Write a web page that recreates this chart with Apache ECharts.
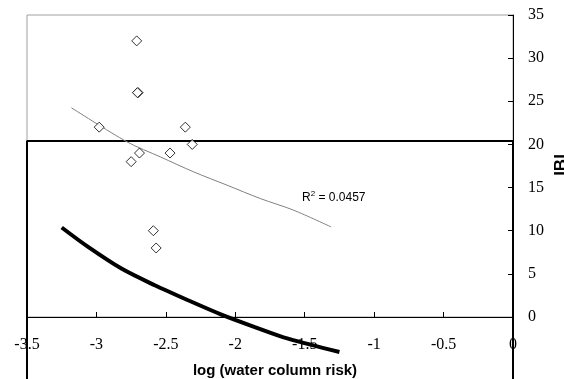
<!DOCTYPE html>
<html>
<head>
<meta charset="utf-8">
<script src="https://cdn.jsdelivr.net/npm/echarts@6/dist/echarts.min.js"></script>
<style>
  html, body { margin: 0; padding: 0; background: #fff; }
  #chart { width: 564px; height: 379px; }
</style>
</head>
<body>
<div id="chart"></div>
<script>
// observed sites: [log water column risk, IBI]
var sites = [
  [-2.71, 32], [-2.70, 26], [-2.705, 26], [-2.98, 22], [-2.36, 22],
  [-2.31, 20], [-2.69, 19], [-2.47, 19], [-2.75, 18],
  [-2.59, 10], [-2.57, 8]
]
// fitted trend
var trendLine = [
  [-3.18, 24.25], [-2.78, 20.3], [-2.54, 18.56], [-2.30, 16.82],
  [-2.06, 15.28], [-1.82, 13.73], [-1.58, 12.38], [-1.31, 10.44]
]
// thick reference curve
var refCurve = [
  [-3.25, 10.37], [-3.06, 8.12], [-2.82, 5.61], [-2.58, 3.68], [-2.34, 1.94],
  [-2.10, 0.28], [-1.86, -1.16], [-1.62, -2.51], [-1.25, -4.06]
]
// box outline
var boxTop = 20.4
var boxOutline = [[-3.5, -10], [-3.5, boxTop], [0, boxTop], [0, -10]]
var xTicks = { min: -3.5, max: 0, step: 0.5 }
var yTicks = { min: 0, max: 35, step: 5 }

var chart = echarts.init(document.getElementById('chart'))

chart.setOption({
  animation: false,
  grid: {
    left: 27,
    right: 51,
    top: 15,
    bottom: 62,
    outerBoundsMode: 'none',
    containLabel: false,
    show: true,
    borderColor: '#a0a0a0',
    borderWidth: 1
  },
  xAxis: {
    type: 'value',
    min: xTicks.min,
    max: xTicks.max,
    interval: xTicks.step,
    name: 'log (water column risk)',
    nameLocation: 'middle',
    nameGap: 46,
    nameTextStyle: {
      fontFamily: 'Arial, Liberation Sans',
      fontWeight: 'bold',
      fontSize: 15,
      color: '#000',
      padding: [0, 0, 0, 10]
    },
    axisLine: { onZero: false, lineStyle: { color: '#000', width: 1 } },
    axisTick: { inside: true, length: 5, lineStyle: { color: '#000' } },
    axisLabel: {
      margin: 20,
      fontFamily: 'Times New Roman, Liberation Serif',
      fontSize: 16,
      color: '#000',
      formatter: function (v) { return String(v) }
    },
    splitLine: { show: false }
  },
  yAxis: {
    type: 'value',
    position: 'right',
    min: yTicks.min,
    max: yTicks.max,
    interval: yTicks.step,
    axisLine: { show: true, lineStyle: { color: '#000', width: 1 } },
    axisTick: { show: true, inside: true, length: 5, lineStyle: { color: '#000' } },
    axisLabel: {
      margin: 15,
      fontFamily: 'Times New Roman, Liberation Serif',
      fontSize: 16,
      color: '#000'
    },
    splitLine: { show: false }
  },
  graphic: [
    {
      type: 'text',
      x: 561,
      y: 165,
      rotation: Math.PI / 2,
      style: {
        text: 'IBI',
        font: 'bold 17px Arial, Liberation Sans',
        fill: '#000',
        align: 'center',
        verticalAlign: 'middle'
      }
    },
    {
      type: 'text',
      left: 302,
      top: 190,
      style: {
        text: '{a|R}{s|2}{a| = 0.0457}',
        rich: {
          a: { fontFamily: 'Arial, Liberation Sans', fontSize: 12, color: '#000', verticalAlign: 'bottom' },
          s: { fontFamily: 'Arial, Liberation Sans', fontSize: 8, color: '#000', verticalAlign: 'top', padding: [0, 0, 6, 0] }
        }
      }
    }
  ],
  series: [
    {
      type: 'line',
      data: boxOutline,
      clip: false,
      showSymbol: false,
      silent: true,
      lineStyle: { color: '#000', width: 2 },
      z: 1
    },
    {
      type: 'line',
      data: trendLine,
      smooth: 0.3,
      showSymbol: false,
      lineStyle: { color: '#808080', width: 1 },
      z: 2
    },
    {
      type: 'line',
      data: refCurve,
      smooth: 0.3,
      clip: false,
      showSymbol: false,
      lineStyle: { color: '#000', width: 4 },
      z: 3
    },
    {
      type: 'scatter',
      data: sites,
      symbol: 'diamond',
      symbolSize: 10,
      itemStyle: { color: '#fff', borderColor: '#000', borderWidth: 1 },
      z: 4
    }
  ]
})
</script>
</body>
</html>
